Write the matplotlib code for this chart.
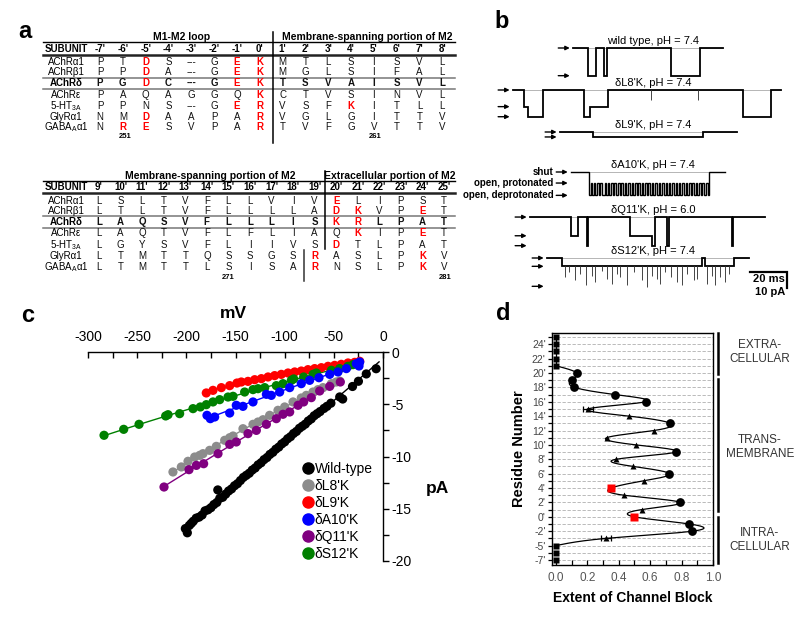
import numpy as np
import matplotlib
matplotlib.use("Agg")
import matplotlib.pyplot as plt
from matplotlib.lines import Line2D
from matplotlib.transforms import blended_transform_factory

plt.rcParams['font.family'] = ['Liberation Sans', 'DejaVu Sans']
plt.rcParams['mathtext.default'] = 'regular'
plt.rcParams['axes.unicode_minus'] = False

# ---------------- panel a data ----------------
subunits = ['AChRα1', 'AChRβ1', 'AChRδ', 'AChRε', '5-HT$_{3A}$', 'GlyRα1', 'GABA$_A$α1']
top_cols = ["-7'", "-6'", "-5'", "-4'", "-3'", "-2'", "-1'", "0'",
            "1'", "2'", "3'", "4'", "5'", "6'", "7'", "8'"]
top_seq = ["P T D S --- G E K M T L S I S V L",
           "P P D A --- G E K M G L S I F A L",
           "P G D C --- G E K T S V A I S V L",
           "P A Q A G G Q K C T V S I N V L",
           "P P N S --- G E R V S F K I T L L",
           "N M D A A P A R V G L G I T T V",
           "N R E S V P A R T V F G V T T V"]
top_red = [[2, 6, 7], [2, 6, 7], [2, 6, 7], [7], [6, 7, 11], [2, 7], [1, 2, 7]]
bot_cols = ["9'", "10'", "11'", "12'", "13'", "14'", "15'", "16'", "17'", "18'",
            "19'", "20'", "21'", "22'", "23'", "24'", "25'"]
bot_seq = ["L S L T V F L L V I V E L I P S T",
           "L T L T V F L L L L A D K V P E T",
           "L A Q S V F L L L I S K R L P A T",
           "L A Q T V F L F L I A Q K I P E T",
           "L G Y S V F L I I V S D T L P A T",
           "L T M T T Q S S G S R A S L P K V",
           "L T M T T L S I S A R N S L P K V"]
bot_red = [[11], [11, 12, 15], [11, 12], [12, 15], [11], [10, 15], [10, 15]]

# ---------------- panel b data (ms, pA amplitudes) ----------------
wt_times = [0, 8.1, 12.6, 16.6, 18.4, 53.2, 68.5, 81.1]
wt_states = [0, 1, 0, 1, 0, 1, 0]
wt_levels = [0, 17.3]
l8_times = [0, 5.8, 8.1, 16.2, 38.2, 41.8, 51.4, 124.3, 139.6, 145.0]
l8_states = [0, 1, 2, 0, 2, 1, 0, 2, 0]
l8_levels = [0, 10.4, 16.7]
l8_spike_t = [74.8, 100.0]
l8_spike_amp = [6.3, 6.3]
l9_times = [0, 17.7, 77.5, 95.5]
l9_states = [0, 1, 0]
l9_levels = [0, 3.1]
a10_times = [0, 9.5, 74.4, 83.4]
a10_levels = [0, 6.9, 14.6]
a10_flicker = [1.2, 0.8, 0.9, 0.7, 1.1, 0.9, 0.8, 1.0, 1.3, 0.7, 0.9, 0.8, 1.0, 1.1,
               0.7, 0.9, 1.2, 0.8, 0.9, 1.0, 0.8, 0.7, 1.1, 0.9, 1.0, 0.8, 0.9, 1.2,
               0.7, 0.9, 1.0, 0.8, 1.1, 0.9, 0.8, 1.0, 0.9, 0.7, 1.2, 0.8, 0.9, 1.0,
               0.8, 1.1, 0.9, 0.7, 1.0, 0.9, 0.8, 1.2, 0.9, 0.8, 1.0, 0.7, 0.9, 1.1,
               0.8, 0.9, 1.0, 0.8, 0.9, 1.1, 0.7, 1.0, 0.9, 0.8, 1.0, 0.9, 1.1, 0.8]
q11_times = [0, 22.0, 26.1, 30.6, 31.4, 54.1, 65.8, 67.6, 74.2, 75.3, 109.0, 109.9, 127.0]
q11_states = [0, 1, 0, 2, 0, 1, 2, 0, 2, 0, 2, 0]
q11_levels = [0, 11.7, 17.9]
s12_times = [0, 8.1, 83.8, 85.6, 100.9, 109.0]
s12_states = [0, 1, 0, 1, 0]
s12_levels = [0, 5.2, 17.7]
s12_spike_t = [9.9, 11.7, 15.3, 18.0, 21.3, 24.3, 26.1, 29.7, 32.4, 35.1, 37.8, 39.6,
               43.2, 46.8, 51.4, 54.1, 56.8, 59.5, 61.3, 64.0, 67.0, 70.3, 73.0, 75.7,
               79.3, 81.1, 86.5, 89.2, 91.0, 93.7, 96.4, 98.2]
s12_spike_amp = [12, 9, 14, 10, 17, 11, 15, 8, 13, 16, 10, 12, 17, 9, 14, 18, 11, 13,
                 16, 9, 12, 15, 17, 10, 14, 13, 16, 11, 17, 12, 15, 10]
trace_titles = ["wild type, pH = 7.4", "δL8'K, pH = 7.4", "δL9'K, pH = 7.4",
                "δA10'K, pH = 7.4", "δQ11'K, pH = 6.0", "δS12'K, pH = 7.4"]

# ---------------- panel c data (mV, pA) ----------------
wt_mv = [-201, -199, -197, -195, -193, -190, -187, -184, -181, -178, -175, -172, -168,
         -169, -166, -163, -160, -157, -154, -151, -148, -145, -142, -139, -136, -133,
         -130, -127, -124, -121, -118, -115, -112, -109, -106, -103, -100, -97, -94,
         -91, -88, -85, -82, -79, -76, -73, -70, -67, -64, -60, -57, -53, -44, -41,
         -31, -25, -17, -7]
wt_pa = [-16.9, -17.3, -16.6, -16.4, -16.2, -15.9, -15.8, -15.6, -15.2, -15.1, -14.9,
         -14.6, -13.2, -14.4, -14.0, -13.9, -13.6, -13.3, -13.1, -12.8, -12.6, -12.3,
         -12.0, -11.8, -11.6, -11.3, -11.1, -10.8, -10.6, -10.3, -10.1, -9.8, -9.6,
         -9.3, -9.1, -8.8, -8.6, -8.3, -8.1, -7.8, -7.6, -7.3, -7.1, -6.9, -6.6, -6.4,
         -6.1, -5.9, -5.7, -5.4, -5.2, -4.9, -4.3, -4.5, -3.3, -2.8, -2.1, -1.6]
l8_mv = [-213.6, -205.1, -198.3, -191.5, -186.4, -183.1, -176.3, -169.5, -161.0, -155.9,
         -152.5, -142.4, -132.2, -127.1, -122.0, -115.3, -106.8, -100.0, -91.5, -83.1,
         -78.0, -71.2, -66.1, -61.0, -52.5, -47.5, -44.1]
l8_pa = [-11.48, -11.0, -10.46, -10.05, -9.89, -9.73, -9.41, -9.03, -8.45, -8.2, -8.04,
         -7.34, -6.92, -6.70, -6.48, -6.06, -5.58, -5.26, -4.78, -4.40, -4.15, -3.83,
         -3.60, -3.41, -3.03, -2.87, -2.78]
q11_mv = [-222.7, -197.3, -189.8, -182.4, -167.8, -155.9, -149.2, -137.3, -128.8, -118.6,
          -108.5, -101.7, -94.9, -86.4, -80.7, -72.9, -64.4, -54.2, -43.4]
q11_pa = [-12.92, -11.26, -10.85, -10.69, -9.73, -8.84, -8.61, -7.81, -7.50, -6.92,
          -6.38, -5.96, -5.74, -5.10, -4.78, -4.37, -3.73, -3.29, -2.87]
a10_mv = [-179.0, -175.6, -171.2, -155.9, -149.2, -142.4, -132.2, -118.6, -113.6, -105.1,
          -94.9, -83.1, -74.6, -65.1, -54.2, -45.8, -37.3, -27.1, -23.7, -24.4]
a10_pa = [-6.06, -6.38, -6.22, -5.84, -5.10, -5.20, -4.78, -4.05, -4.15, -3.83, -3.41,
          -3.03, -2.71, -2.46, -2.14, -1.91, -1.59, -1.12, -0.96, -1.34]
l9_mv = [-179.7, -172.9, -164.4, -155.9, -148.5, -144.1, -137.3, -130.5, -123.7, -116.9,
         -110.2, -103.4, -96.6, -89.8, -83.1, -76.3, -69.5, -62.7, -55.9, -49.2, -42.4,
         -35.6, -28.8, -23.7]
l9_pa = [-3.92, -3.67, -3.41, -3.22, -2.97, -2.87, -2.81, -2.65, -2.55, -2.39, -2.26,
         -2.14, -2.01, -1.91, -1.82, -1.69, -1.59, -1.50, -1.37, -1.28, -1.18, -1.05,
         -0.99, -0.89]
s12_mv = [-283.7, -263.7, -248.1, -221.0, -218.6, -206.8, -193.2, -185.8, -179.7, -172.9,
          -166.1, -157.6, -152.5, -140.7, -132.2, -127.1, -120.3, -108.5, -101.7, -93.2,
          -90.8, -80.7, -71.2, -67.8, -52.5, -44.1, -35.6, -30.5]
s12_pa = [-7.97, -7.40, -6.92, -6.12, -6.00, -5.90, -5.42, -5.26, -5.04, -4.78, -4.56,
          -4.31, -4.24, -3.83, -3.60, -3.51, -3.41, -3.22, -3.03, -2.71, -2.58, -2.39,
          -2.14, -2.01, -1.75, -1.59, -1.37, -1.21]

# ---------------- panel d data ----------------
residues = [25, 24, 23, 22, 21, 20, 19, 18, 17, 16, 15, 14, 13, 12, 11, 10, 9, 8, 7, 6,
            5, 4, 3, 2, 1, 0, -1, -2, -3, -5, -6, -7]
block = [0, 0, 0, 0, 0, 0.133, 0.10, 0.118, 0.376, 0.571, 0.203, 0.465, 0.729, 0.624,
         0.323, 0.51, 0.763, 0.383, 0.493, 0.723, 0.558, 0.351, 0.433, 0.791, 0.545,
         0.499, 0.85, 0.869, 0.32, 0, 0, 0]
block_err = [0, 0, 0, 0, 0, 0, 0, 0, 0, 0, 0.03, 0, 0, 0, 0, 0, 0, 0, 0, 0, 0, 0, 0, 0,
             0, 0, 0, 0, 0.03, 0, 0, 0]
kind = ['s', 's', 's', 's', 's', 'o', 'o', 'o', 'o', 'o', '^', '^', 'o', '^', '^', '^',
        'o', '^', '^', 'o', '^', 'r', '^', 'o', '^', 'r', 'o', 'o', '^', 's', 's', 's']

# =====================================================================
W, H = 800, 628
fig = plt.figure(figsize=(8, 6.28), dpi=100)


def rect(l, t, r, b):
    return [l / W, 1 - b / H, (r - l) / W, (b - t) / H]


ax0 = fig.add_axes([0, 0, 1, 1])
ax0.set_xlim(0, W)
ax0.set_ylim(H, 0)
ax0.axis('off')

# panel letters
for lab, (px, py) in zip('abcd', [(25, 31), (502, 22), (28, 316), (503, 314)]):
    ax0.text(px, py, lab, fontsize=17, fontweight='bold', ha='center', va='center')


# ---------------- panel a ----------------
def draw_table(cols, seqs, reds, col_x0, col_x1, hdr_y, row_y, line_hdr, line_cols,
               grey_lines, head_items, left=43, right=455):
    cx = np.linspace(col_x0, col_x1, len(cols))
    for txt, x in head_items:
        ax0.text(x, line_hdr - 5, txt, fontsize=7.5, fontweight='bold', ha='center', va='center')
    ax0.plot([left, right], [line_hdr, line_hdr], color='black', lw=1.0)
    ax0.text(66, hdr_y, 'SUBUNIT', fontsize=7, fontweight='bold', ha='center', va='center')
    for c, x in zip(cols, cx):
        ax0.text(x, hdr_y, c, fontsize=7, fontweight='bold', ha='center', va='center')
    ax0.plot([left, right], [line_cols, line_cols], color='#222222', lw=1.8)
    for gy in grey_lines:
        ax0.plot([left, right], [gy, gy], color='#777777', lw=1.1)
    for r, (name, seq, red) in enumerate(zip(subunits, seqs, reds)):
        fw = 'bold' if r == 2 else 'normal'
        ax0.text(66, row_y[r], name, fontsize=7, fontweight=fw, ha='center', va='center')
        for k, (ch, x) in enumerate(zip(seq.split(), cx)):
            col = 'red' if k in red else '#111111'
            w = 'bold' if (k in red or r == 2) else 'normal'
            ax0.text(x, row_y[r], ch, fontsize=7, color=col, fontweight=w,
                     ha='center', va='center')
    return cx


draw_table(top_cols, top_seq, top_red, 100, 442.3, 49, [62.3, 72.3, 83.3, 95, 106, 116.7, 127.3],
           42, 54.5, [77.5, 88.8],
           [('M1-M2 loop', 182), ('Membrane-spanning portion of M2', 367)])
ax0.plot([272.7, 272.7], [32, 143], color='black', lw=1.1)
ax0.text(125, 137, '251', fontsize=5.5, fontweight='bold', ha='center', va='center')
ax0.text(375, 137, '261', fontsize=5.5, fontweight='bold', ha='center', va='center')

draw_table(bot_cols, bot_seq, bot_red, 99, 444, 187.3, [200.7, 211, 221.7, 233.3, 245, 256, 267.3],
           180.7, 193.3, [215.9, 227.5],
           [('Membrane-spanning portion of M2', 210.7), ('Extracellular portion of M2', 390)])
ax0.plot([325, 325], [170.7, 249.3], color='black', lw=1.1)
ax0.plot([304, 304], [250, 280.7], color='#333333', lw=1.1)
ax0.text(228.3, 277.3, '271', fontsize=5.5, fontweight='bold', ha='center', va='center')
ax0.text(445, 277.3, '281', fontsize=5.5, fontweight='bold', ha='center', va='center')

# ---------------- panel b ----------------
PX_MS, PX_PA = 1.85, 1.6
axb = fig.add_axes(rect(480, 30, 800, 300))
axb.set_xlim(0, 320 / PX_MS)
axb.set_ylim(-270 / PX_PA, 0)
axb.axis('off')


def step_xy(times, states, levels):
    t = np.asarray(times, float)
    amp = np.asarray(levels, float)[np.asarray(states)]
    xs = np.repeat(t, 2)[1:-1]
    ys = np.repeat(amp, 2)
    return xs, ys


def draw_trace(t0, base, times, states, levels, title, spikes=None, lw=1.3):
    xs, ys = step_xy(times, states, levels)
    axb.plot([t0, t0 + times[-1]], [base, base], color='#999999', lw=0.5)
    axb.plot(t0 + xs, base - ys, color='black', lw=lw, solid_joinstyle='miter')
    if spikes is not None:
        st, sa, lvl = spikes
        axb.vlines(t0 + np.asarray(st), base - lvl, base - np.asarray(sa), color='#444444', lw=0.7)
    for lv in levels:
        axb.annotate('', xy=(t0 - 1.8, base - lv), xytext=(t0 - 8.0, base - lv),
                     arrowprops=dict(arrowstyle='-|>', color='black', lw=1.0,
                                     mutation_scale=6, shrinkA=0, shrinkB=0))
    axb.text(93.5, base + 4.3, title, fontsize=8, ha='center', va='center')


bases = [-11.25, -37.5, -63.75, -88.75, -116.9, -142.5]
starts = [50.3, 17.8, 43.2, 49.2, 27.0, 36.2]

draw_trace(starts[0], bases[0], wt_times, wt_states, wt_levels, trace_titles[0])
draw_trace(starts[1], bases[1], l8_times, l8_states, l8_levels, trace_titles[1],
           spikes=(l8_spike_t, l8_spike_amp, 0))
draw_trace(starts[2], bases[2], l9_times, l9_states, l9_levels, trace_titles[2])

# A10: flicker between protonated and deprotonated levels
fl_t = a10_times[1] + np.concatenate([[0], np.cumsum(a10_flicker)])
fl_t = fl_t[fl_t < a10_times[2]]
a10_t = np.concatenate([[a10_times[0]], fl_t, a10_times[2:]])
n_open = len(fl_t)
a10_st = [0] + [2 if k % 2 == 0 else 1 for k in range(n_open)] + [0]
draw_trace(starts[3], bases[3], list(a10_t), a10_st, a10_levels, trace_titles[3], lw=1.0)
for lab, lv in zip(['shut', 'open, protonated', 'open, deprotonated'], a10_levels):
    axb.text(starts[3] - 9.5, bases[3] - lv, lab, fontsize=7, fontweight='bold',
             ha='right', va='center')

draw_trace(starts[4], bases[4], q11_times, q11_states, q11_levels, trace_titles[4])
draw_trace(starts[5], bases[5], s12_times, s12_states, s12_levels, trace_titles[5],
           spikes=(s12_spike_t, s12_spike_amp, s12_levels[1]))

# scale bar
sb_x, sb_y = 145.9, -151.4
axb.plot([sb_x, sb_x + 20, sb_x + 20], [sb_y, sb_y, sb_y - 10], color='black', lw=1.6,
         solid_joinstyle='miter')
axb.text(sb_x + 19, sb_y - 4.2, '20 ms', fontsize=8, fontweight='bold', ha='right', va='center')
axb.text(sb_x + 19, sb_y - 12.2, '10 pA', fontsize=8, fontweight='bold', ha='right', va='center')

# ---------------- panel c ----------------
axc = fig.add_axes(rect(88, 352, 383, 561))
axc.set_xlim(-300, 0)
axc.set_ylim(-20, 0)
for s in ['left', 'bottom']:
    axc.spines[s].set_visible(False)
axc.spines['top'].set_linewidth(1.0)
axc.spines['right'].set_linewidth(1.0)
axc.xaxis.tick_top()
axc.yaxis.tick_right()
axc.set_xticks(np.arange(-300, 1, 50))
axc.set_xticks(np.arange(-275, 0, 50), minor=True)
axc.set_yticks(np.arange(-20, 1, 5))
axc.set_yticks(np.arange(-17.5, 0, 5), minor=True)
axc.tick_params(axis='x', which='both', direction='in', length=4, width=1, labelsize=10,
                pad=6, top=True, bottom=False)
axc.tick_params(axis='y', which='both', direction='out', length=4, width=1, labelsize=10,
                pad=2, right=True, left=False)
axc.patch.set_alpha(0)

series = [
    ('Wild-type', wt_mv, wt_pa, '#000000', 1),
    ("δL8'K", l8_mv, l8_pa, '#8c8c8c', 2),
    ("δL9'K", l9_mv, l9_pa, '#ff0000', 2),
    ("δA10'K", a10_mv, a10_pa, '#0000ff', 2),
    ("δQ11'K", q11_mv, q11_pa, '#800080', 2),
    ("δS12'K", s12_mv, s12_pa, '#008000', 2),
]
draw_order = [0, 1, 4, 2, 5, 3]
for idx in draw_order:
    name, mv, pa, col, deg = series[idx]
    mv = np.asarray(mv)
    pa = np.asarray(pa)
    coef = np.polyfit(mv, pa, deg)
    xx = np.linspace(mv.min(), mv.max() + (3 if idx == 0 else 0), 100)
    axc.plot(xx, np.polyval(coef, xx), color=col, lw=1.0, zorder=2)
    axc.scatter(mv, pa, s=44, color=col, edgecolors='none', zorder=3, clip_on=False)

handles = [Line2D([], [], marker='o', ls='none', color=s[3], markersize=8) for s in series]
axc.legend(handles, [s[0] for s in series], loc='upper left',
           bbox_to_anchor=(303 / W, 1 - 462 / H), bbox_transform=fig.transFigure,
           frameon=False, fontsize=10, handlelength=0.7, handletextpad=0.15,
           labelspacing=0.22, borderpad=0, borderaxespad=0)
ax0.text(233, 314, 'mV', fontsize=12.5, fontweight='bold', ha='center', va='center')
ax0.text(437, 489, 'pA', fontsize=12.5, fontweight='bold', ha='center', va='center')

# ---------------- panel d ----------------
axd = fig.add_axes(rect(552, 333, 713, 565))
pos = 25 - np.arange(len(residues))
blk = np.asarray(block)
axd.set_xlim(-0.025, 1.0)
axd.set_ylim(-6.7, 25.56)
for p in pos:
    axd.axhline(p, color='#b0b0b0', lw=0.6, dashes=(4, 2), zorder=0)


def natural_spline(x, y, xs):
    n = len(x)
    h = np.diff(x)
    A = np.zeros((n, n))
    rhs = np.zeros(n)
    A[0, 0] = 1
    A[-1, -1] = 1
    for i in range(1, n - 1):
        A[i, i - 1] = h[i - 1]
        A[i, i] = 2 * (h[i - 1] + h[i])
        A[i, i + 1] = h[i]
        rhs[i] = 6 * ((y[i + 1] - y[i]) / h[i] - (y[i] - y[i - 1]) / h[i - 1])
    M = np.linalg.solve(A, rhs)
    idx = np.clip(np.searchsorted(x, xs) - 1, 0, n - 2)
    x0, x1 = x[idx], x[idx + 1]
    hh = x1 - x0
    a = (x1 - xs) / hh
    b = (xs - x0) / hh
    return a * y[idx] + b * y[idx + 1] + ((a ** 3 - a) * M[idx] + (b ** 3 - b) * M[idx + 1]) * hh ** 2 / 6


sel = (pos <= 21) & (pos >= -4)
px_ = pos[sel][::-1].astype(float)
bx_ = blk[sel][::-1]
yy = np.linspace(px_.min(), px_.max(), 600)
axd.plot(natural_spline(px_, bx_, yy), yy, color='black', lw=0.9, zorder=2)
axd.plot([0, 0], [21, 25], color='black', lw=0.9, zorder=2)

kinds = np.asarray(kind)
style = {'s': dict(marker='s', color='black', ms=5),
         'o': dict(marker='o', color='black', ms=6.3),
         '^': dict(marker='^', color='black', ms=5),
         'r': dict(marker='s', color='#ff0000', ms=6)}
for k, st in style.items():
    m = kinds == k
    axd.plot(blk[m], pos[m], ls='none', zorder=4, clip_on=False, mec='none', **st)
err = np.asarray(block_err)
m = err > 0
axd.errorbar(blk[m], pos[m], xerr=err[m], fmt='none', ecolor='black', elinewidth=0.9,
             capsize=2.5, capthick=0.9, zorder=3)

axd.set_xticks(np.arange(0, 1.01, 0.2))
axd.set_xticks(np.arange(0.1, 1.0, 0.2), minor=True)
axd.set_xticklabels(['%.1f' % v for v in np.arange(0, 1.01, 0.2)])
lab_pos = [p for p in pos if p % 2 == 0]
axd.set_yticks(lab_pos)
axd.set_yticklabels(["%d'" % residues[25 - p] for p in lab_pos])
axd.set_yticks(pos, minor=True)
axd.tick_params(axis='x', which='both', direction='in', length=3.5, width=0.9,
                labelsize=8.5, labelcolor='#555555', pad=5)
axd.tick_params(axis='y', which='both', direction='out', length=3, width=0.9,
                labelsize=7.5, labelcolor='#444444', pad=1.5)
for s in axd.spines.values():
    s.set_linewidth(1.0)
axd.set_xlabel('Extent of Channel Block', fontsize=10, fontweight='bold', labelpad=5)
axd.set_ylabel('Residue Number', fontsize=10.5, fontweight='bold', labelpad=4)

tr = blended_transform_factory(axd.transAxes, axd.transData)
for (y0, y1) in [(25.5, 19.85), (19.1, 0.84), (0.0, -6.46)]:
    axd.plot([1.03, 1.03], [y0, y1], color='black', lw=1.8, transform=tr, clip_on=False)
for txt, yc in [('EXTRA-\nCELLULAR', 22.9), ('TRANS-\nMEMBRANE', 9.7), ('INTRA-\nCELLULAR', -3.2)]:
    axd.text(1.29, yc, txt, transform=tr, fontsize=8.5, color='#333333', ha='center',
             va='center', linespacing=1.15)

fig.savefig('out.png', dpi=100)
